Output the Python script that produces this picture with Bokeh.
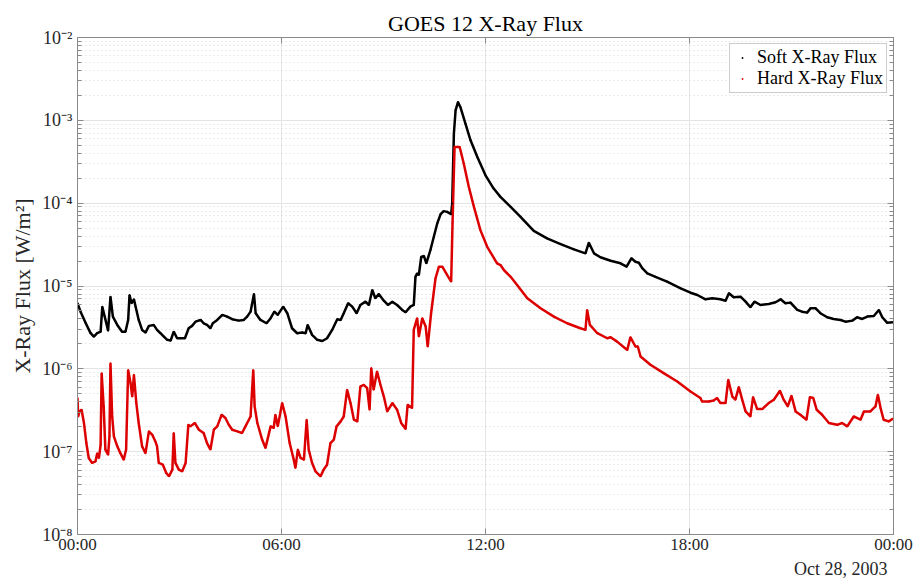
from bokeh.plotting import figure
from bokeh.models import (FixedTicker, CustomJSTickFormatter, LinearAxis, LogAxis,
                          Title, Range1d)
from bokeh.embed import file_html
from bokeh.resources import INLINE

# ---- data (hours after 00:00 UT, Oct 28 2003; flux in W/m^2) ----
soft_hours = [0.00, 0.09, 0.24, 0.38, 0.48, 0.58, 0.68, 0.73, 0.80, 0.90,
              0.97, 1.04, 1.17, 1.31, 1.41, 1.49, 1.53, 1.59, 1.66, 1.71,
              1.80, 1.90, 2.00, 2.10, 2.24, 2.34, 2.44, 2.54, 2.64, 2.74,
              2.83, 2.93, 3.03, 3.16, 3.27, 3.37, 3.47, 3.62, 3.71, 3.81,
              3.91, 3.98, 4.11, 4.26, 4.40, 4.55, 4.74, 4.89, 4.99, 5.09,
              5.19, 5.24, 5.38, 5.56, 5.68, 5.79, 5.89, 6.05, 6.17, 6.31,
              6.46, 6.61, 6.71, 6.77, 6.90, 7.05, 7.20, 7.34, 7.49, 7.64,
              7.74, 7.83, 7.96, 8.08, 8.21, 8.32, 8.47, 8.57, 8.67, 8.76,
              8.86, 9.01, 9.13, 9.26, 9.40, 9.55, 9.65, 9.79, 9.89, 9.94,
              9.99, 10.04, 10.11, 10.19, 10.26, 10.38, 10.48, 10.58, 10.68, 10.77,
              10.87, 10.99, 11.02, 11.07, 11.12, 11.19, 11.26, 11.41, 11.56, 11.76,
              12.00, 12.24, 12.44, 12.74, 13.03, 13.42, 13.81, 14.21, 14.60, 14.94,
              15.04, 15.19, 15.38, 15.68, 15.97, 16.15, 16.29, 16.41, 16.51, 16.61,
              16.76, 17.00, 17.34, 17.74, 18.03, 18.23, 18.47, 18.67, 18.91, 19.06,
              19.16, 19.30, 19.50, 19.65, 19.79, 19.91, 20.09, 20.33, 20.53, 20.68,
              20.82, 20.97, 21.17, 21.31, 21.46, 21.56, 21.71, 21.85, 22.05, 22.24,
              22.44, 22.59, 22.79, 22.93, 23.08, 23.23, 23.42, 23.57, 23.67, 23.81,
              23.98]
soft_flux = [6.2e-6, 4.9e-6, 3.58e-6, 2.72e-6, 2.45e-6, 2.7e-6, 2.81e-6, 5.63e-6, 4.27e-6, 2.89e-6,
             7.43e-6, 4.27e-6, 3.39e-6, 2.81e-6, 2.81e-6, 3.89e-6, 7.79e-6, 6.2e-6, 6.91e-6, 5.63e-6,
             3.89e-6, 2.95e-6, 2.74e-6, 3.30e-6, 3.39e-6, 2.95e-6, 2.69e-6, 2.45e-6, 2.24e-6, 2.2e-6,
             2.81e-6, 2.34e-6, 2.34e-6, 2.34e-6, 3.09e-6, 3.30e-6, 3.71e-6, 3.89e-6, 3.55e-6, 3.39e-6,
             3.09e-6, 3.55e-6, 3.89e-6, 4.48e-6, 4.27e-6, 3.97e-6, 3.82e-6, 3.89e-6, 4.27e-6, 4.9e-6,
             8.01e-6, 4.69e-6, 3.89e-6, 3.55e-6, 4.09e-6, 4.9e-6, 4.48e-6, 5.63e-6, 4.69e-6, 3.09e-6,
             2.69e-6, 2.74e-6, 2.69e-6, 3.39e-6, 2.57e-6, 2.24e-6, 2.17e-6, 2.34e-6, 2.95e-6, 3.97e-6,
             3.89e-6, 4.69e-6, 6.2e-6, 5.63e-6, 4.69e-6, 5.90e-6, 6.47e-6, 5.9e-6, 8.95e-6, 7.11e-6,
             8.01e-6, 6.65e-6, 5.9e-6, 6.47e-6, 5.9e-6, 5.14e-6, 4.82e-6, 5.63e-6, 5.9e-6, 1.29e-5,
             1.42e-5, 1.36e-5, 2.25e-5, 2.30e-5, 1.88e-5, 2.72e-5, 3.93e-5, 5.69e-5, 7.36e-5, 8.01e-5,
             7.85e-5, 7.36e-5, 9.9e-5, 6.91e-4, 1.32e-3, 1.66e-3, 1.45e-3, 9.12e-4, 5.74e-4, 3.61e-4,
             2.17e-4, 1.50e-4, 1.19e-4, 9.02e-5, 6.84e-5, 4.63e-5, 3.76e-5, 3.21e-5, 2.77e-5, 2.48e-5,
             3.33e-5, 2.48e-5, 2.22e-5, 2.02e-5, 1.88e-5, 1.71e-5, 2.16e-5, 1.96e-5, 1.91e-5, 1.64e-5,
             1.42e-5, 1.29e-5, 1.13e-5, 9.38e-6, 8.30e-6, 7.79e-6, 6.91e-6, 7.11e-6, 6.91e-6, 6.65e-6,
             8.17e-6, 7.31e-6, 7.43e-6, 6.47e-6, 5.53e-6, 6.47e-6, 5.90e-6, 6.07e-6, 6.37e-6, 6.91e-6,
             6.2e-6, 6.3e-6, 5.14e-6, 4.9e-6, 4.77e-6, 5.38e-6, 5.38e-6, 4.69e-6, 4.20e-6, 4.00e-6,
             3.89e-6, 3.71e-6, 3.82e-6, 4.20e-6, 4.00e-6, 4.27e-6, 4.35e-6, 5.14e-6, 4.20e-6, 3.61e-6,
             3.65e-6]

hard_hours = [0.00, 0.02, 0.06, 0.12, 0.19, 0.26, 0.33, 0.43, 0.53, 0.58,
              0.63, 0.68, 0.71, 0.77, 0.82, 0.90, 0.94, 0.97, 1.02, 1.07,
              1.17, 1.26, 1.36, 1.43, 1.49, 1.56, 1.61, 1.66, 1.73, 1.80,
              1.90, 2.00, 2.10, 2.20, 2.29, 2.34, 2.39, 2.51, 2.61, 2.69,
              2.79, 2.83, 2.88, 2.98, 3.08, 3.18, 3.26, 3.32, 3.45, 3.57,
              3.71, 3.81, 3.91, 4.01, 4.11, 4.24, 4.35, 4.45, 4.55, 4.70,
              4.84, 4.94, 5.04, 5.09, 5.17, 5.21, 5.29, 5.43, 5.53, 5.68,
              5.77, 5.82, 5.89, 6.02, 6.12, 6.24, 6.36, 6.41, 6.48, 6.56,
              6.66, 6.74, 6.80, 6.90, 7.00, 7.15, 7.24, 7.34, 7.44, 7.54,
              7.62, 7.74, 7.83, 7.93, 8.03, 8.13, 8.23, 8.32, 8.42, 8.52,
              8.59, 8.64, 8.71, 8.81, 8.91, 9.01, 9.11, 9.26, 9.40, 9.52,
              9.65, 9.71, 9.84, 9.89, 9.99, 10.04, 10.14, 10.24, 10.30, 10.40,
              10.53, 10.63, 10.73, 10.87, 10.99, 11.03, 11.09, 11.24, 11.36, 11.51,
              11.66, 11.85, 12.05, 12.34, 12.44, 12.54, 12.74, 12.93, 13.23, 13.62,
              14.01, 14.40, 14.79, 14.94, 14.99, 15.07, 15.29, 15.58, 15.68, 15.87,
              16.17, 16.26, 16.41, 16.48, 16.56, 16.85, 17.24, 17.64, 18.03, 18.32,
              18.37, 18.57, 18.71, 18.81, 18.91, 19.06, 19.14, 19.26, 19.35, 19.45,
              19.55, 19.65, 19.79, 19.87, 19.99, 20.14, 20.33, 20.48, 20.66, 20.77,
              20.89, 21.00, 21.12, 21.26, 21.44, 21.54, 21.64, 21.74, 21.90, 22.10,
              22.34, 22.49, 22.64, 22.83, 23.03, 23.13, 23.32, 23.47, 23.54, 23.62,
              23.71, 23.86, 23.98]
hard_flux = [4.44e-7, 2.66e-7, 3.06e-7, 3.21e-7, 2.22e-7, 1.27e-7, 8.39e-8, 7.31e-8, 7.64e-8, 9.6e-8,
             8.39e-8, 1.21e-7, 8.87e-7, 3.52e-7, 1.06e-7, 9.2e-8, 1.53e-7, 1.17e-6, 2.66e-7, 1.53e-7,
             1.16e-7, 9.6e-8, 8.01e-8, 1.06e-7, 9.7e-7, 6.73e-7, 4.63e-7, 8.47e-7, 3.86e-7, 2.22e-7,
             1.16e-7, 9.6e-8, 1.76e-7, 1.60e-7, 1.33e-7, 1.16e-7, 7.31e-8, 6.96e-8, 5.53e-8, 5.04e-8,
             6.07e-8, 1.68e-7, 7.31e-8, 6.07e-8, 5.79e-8, 7.31e-8, 2.11e-7, 2.02e-7, 2.22e-7, 1.84e-7,
             1.68e-7, 1.27e-7, 1.06e-7, 1.84e-7, 2.02e-7, 2.79e-7, 2.55e-7, 2.11e-7, 1.84e-7, 1.76e-7,
             1.68e-7, 2.02e-7, 2.43e-7, 2.66e-7, 9.7e-7, 3.52e-7, 2.22e-7, 1.40e-7, 1.11e-7, 2.02e-7,
             1.93e-7, 2.79e-7, 2.02e-7, 3.86e-7, 2.66e-7, 1.27e-7, 8.01e-8, 6.37e-8, 1.06e-7, 8.39e-8,
             8.01e-8, 2.43e-7, 1.06e-7, 7.31e-8, 5.79e-8, 5.04e-8, 6.07e-8, 6.96e-8, 1.27e-7, 1.40e-7,
             2.02e-7, 2.32e-7, 2.66e-7, 5.58e-7, 3.86e-7, 2.43e-7, 2.32e-7, 6.12e-7, 6.42e-7, 5.85e-7,
             3.21e-7, 1.02e-6, 5.58e-7, 9.27e-7, 6.42e-7, 4.63e-7, 3.06e-7, 3.86e-7, 3.21e-7, 2.22e-7,
             1.88e-7, 3.68e-7, 3.36e-7, 2.95e-6, 4.09e-6, 2.45e-6, 4.09e-6, 3.24e-6, 1.86e-6, 4.69e-6,
             1.24e-5, 1.71e-5, 1.71e-5, 1.36e-5, 1.13e-5, 5.69e-5, 4.77e-4, 4.77e-4, 3.01e-4, 1.57e-4,
             9.02e-5, 4.73e-5, 2.97e-5, 1.88e-5, 1.79e-5, 1.56e-5, 1.29e-5, 1.03e-5, 7.11e-6, 5.38e-6,
             4.27e-6, 3.55e-6, 3.09e-6, 2.95e-6, 5.14e-6, 3.39e-6, 2.69e-6, 2.34e-6, 2.41e-6, 2.13e-6,
             1.69e-6, 2.41e-6, 1.86e-6, 1.86e-6, 1.41e-6, 1.12e-6, 8.87e-7, 7.03e-7, 5.33e-7, 4.44e-7,
             4.04e-7, 4.04e-7, 4.15e-7, 4.44e-7, 3.86e-7, 3.86e-7, 7.36e-7, 4.63e-7, 4.24e-7, 6.02e-7,
             4.24e-7, 3.06e-7, 2.66e-7, 4.56e-7, 3.27e-7, 3.27e-7, 3.86e-7, 4.24e-7, 5.43e-7, 4.24e-7,
             3.52e-7, 4.73e-7, 3.06e-7, 2.79e-7, 2.43e-7, 4.56e-7, 4.44e-7, 3.21e-7, 2.79e-7, 2.22e-7,
             2.11e-7, 2.22e-7, 2.02e-7, 2.66e-7, 2.43e-7, 3.06e-7, 3.06e-7, 3.52e-7, 4.86e-7, 3.36e-7,
             2.43e-7, 2.32e-7, 2.50e-7]

x_tick_hours = [0, 6, 12, 18, 24]
y_decades = [1e-8, 1e-7, 1e-6, 1e-5, 1e-4, 1e-3, 1e-2]
date_text = "Oct 28, 2003"

# ---- styling ----
SERIF = "Liberation Serif"
AXIS_GREY = "#8a8a8a"
TEXT = "#262626"
RED = "#dd0000"

y_minor = [m * d for d in y_decades[:-1] for m in range(2, 10)]

p = figure(width=915, height=578, y_axis_type="log",
           x_range=Range1d(0, 24), y_range=Range1d(1e-8, 1e-2),
           output_backend="svg", toolbar_location=None,
           min_border_left=77, min_border_right=22,
           min_border_top=37, min_border_bottom=43)

p.title.text = "GOES 12 X-Ray Flux"
p.title.align = "center"
p.title.text_font = SERIF
p.title.text_font_size = "22px"
p.title.text_font_style = "normal"
p.title.text_color = "#000000"
p.title.standoff = 3

p.outline_line_color = AXIS_GREY
p.background_fill_color = "white"
p.border_fill_color = "white"

# x axis
xa = p.xaxis[0]
xa.ticker = FixedTicker(ticks=x_tick_hours, minor_ticks=[])
xa.formatter = CustomJSTickFormatter(
    code="const h = Math.round(tick) % 24; return (h < 10 ? '0' : '') + h + ':00';")
xa.major_label_text_font = SERIF
xa.major_label_text_font_size = "17px"
xa.major_label_text_color = TEXT
xa.major_tick_in = 6
xa.major_tick_out = 0
xa.minor_tick_line_color = None
xa.axis_line_color = AXIS_GREY
xa.major_tick_line_color = AXIS_GREY
xa.major_label_standoff = 0

# y axis
ya = p.yaxis[0]
ya.ticker = FixedTicker(ticks=y_decades, minor_ticks=y_minor)
ya.formatter = CustomJSTickFormatter(code="""
const e = Math.round(Math.log10(tick));
const sup = {'-':'\u207b','0':'\u2070','1':'\u00b9','2':'\u00b2','3':'\u00b3','4':'\u2074',
             '5':'\u2075','6':'\u2076','7':'\u2077','8':'\u2078','9':'\u2079'};
return '10' + String(e).split('').map(c => sup[c]).join('');
""")
ya.major_label_text_font = SERIF
ya.major_label_text_font_size = "18px"
ya.major_label_text_color = TEXT
ya.major_tick_in = 6
ya.major_tick_out = 0
ya.minor_tick_in = 4
ya.minor_tick_out = 0
ya.axis_line_color = AXIS_GREY
ya.major_tick_line_color = AXIS_GREY
ya.minor_tick_line_color = AXIS_GREY
ya.major_label_standoff = 5
ya.axis_label = "X-Ray Flux [W/m\u00b2]"
ya.axis_label_text_font = SERIF
ya.axis_label_text_font_size = "22px"
ya.axis_label_text_font_style = "normal"
ya.axis_label_text_color = TEXT
ya.axis_label_standoff = 4

# box axes (top / right) with inward ticks and no labels
empty = CustomJSTickFormatter(code="return '';")
top = LinearAxis(ticker=FixedTicker(ticks=x_tick_hours, minor_ticks=[]),
                 formatter=empty, major_label_text_font_size="6px", major_label_standoff=0,
                 major_tick_in=6, major_tick_out=0, minor_tick_line_color=None,
                 axis_line_color=AXIS_GREY, major_tick_line_color=AXIS_GREY)
p.add_layout(top, "above")
right = LogAxis(ticker=FixedTicker(ticks=y_decades, minor_ticks=y_minor),
                formatter=empty, major_label_text_font_size="6px", major_label_standoff=0,
                major_tick_in=6, major_tick_out=0, minor_tick_in=4, minor_tick_out=0,
                axis_line_color=AXIS_GREY, major_tick_line_color=AXIS_GREY,
                minor_tick_line_color=AXIS_GREY)
p.add_layout(right, "right")

# grids
p.xgrid.grid_line_color = "#e4e4e4"
p.ygrid.grid_line_color = "#e4e4e4"
p.ygrid.minor_grid_line_color = "#d6d6d6"
p.ygrid.minor_grid_line_dash = "1 3"

# date text below the axis, right aligned
p.add_layout(Title(text=date_text, align="right", text_font=SERIF,
                   text_font_size="18px", text_font_style="normal",
                   text_color=TEXT, standoff=0, offset=6), "below")

# data
p.line(soft_hours, soft_flux, line_color="black", line_width=2.5)
p.line(hard_hours, hard_flux, line_color=RED, line_width=2.5)
p.scatter(soft_hours, soft_flux, marker="dot", size=8, color="black",
          legend_label="Soft X-Ray Flux")
p.scatter(hard_hours, hard_flux, marker="dot", size=8, color=RED,
          legend_label="Hard X-Ray Flux")

lg = p.legend[0]
lg.location = "top_right"
lg.label_text_font = SERIF
lg.label_text_font_size = "18px"
lg.label_text_color = "#000000"
lg.border_line_color = "#9a9a9a"
lg.background_fill_color = "white"
lg.background_fill_alpha = 1.0
lg.padding = 3
lg.spacing = 0
lg.margin = 6
lg.glyph_width = 18
lg.glyph_height = 21
lg.label_height = 21
lg.label_standoff = 6

open("out.html", "w").write(file_html(p, INLINE))
